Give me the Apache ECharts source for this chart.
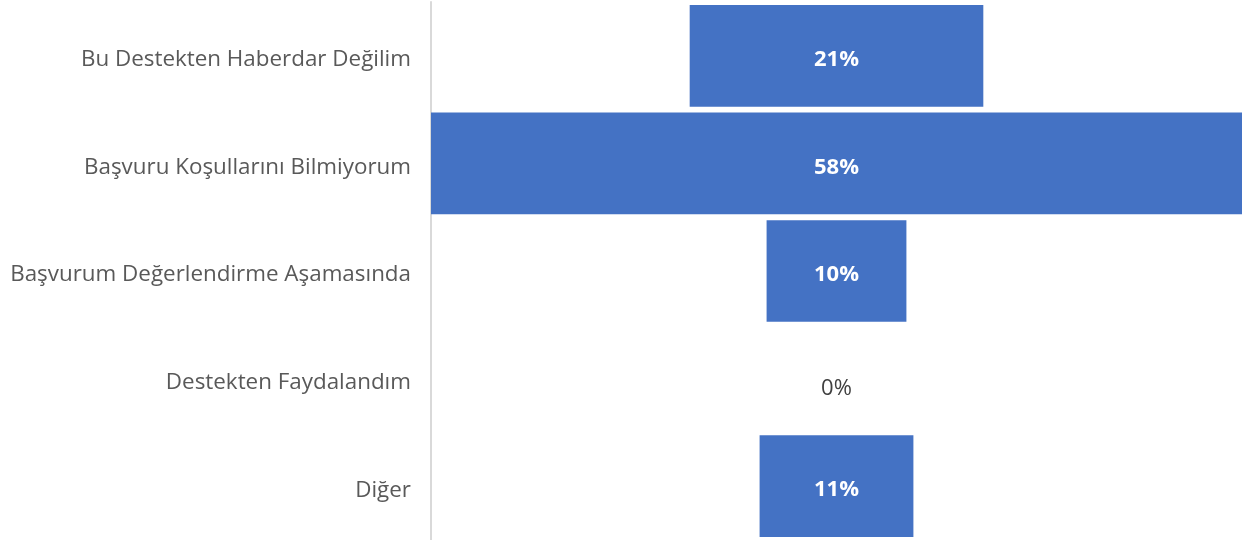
<!DOCTYPE html>
<html><head><meta charset="utf-8">
<script src="https://cdn.jsdelivr.net/npm/echarts@6/dist/echarts.min.js"></script>
<style>html,body{margin:0;padding:0;background:#fff}#c{width:1248px;height:540px}</style>
</head><body><div id="c"></div>
<script>
const categories = ["Bu Destekten Haberdar Değilim","Başvuru Koşullarını Bilmiyorum","Başvurum Değerlendirme Aşamasında","Destekten Faydalandım","Diğer"];
const values = [21, 58, 10, 0, 11];
const maxVal = 58;
const offsets = values.map(v => (maxVal - v) / 2);
const chart = echarts.init(document.getElementById('c'), null, {renderer:'canvas'});
chart.setOption({
  animation:false,
  grid:{left:431, right:6, top:2, bottom:-2, containLabel:false},
  xAxis:{type:'value', min:0, max:maxVal, show:false},
  yAxis:{type:'category', data:categories, inverse:true,
    axisLine:{show:true, lineStyle:{color:'#d9d9d9', width:2}},
    axisTick:{show:false},
    axisLabel:{margin:20, formatter: v => '{a|' + v + '}',
      rich:{a:{color:'#595959', fontSize:22.4, fontFamily:'Open Sans', padding:[8,0,0,0]}}}},
  series:[
    {type:'bar', stack:'f', data:offsets, itemStyle:{color:'transparent'}, barCategoryGap:'5.5%', silent:true},
    {type:'bar', stack:'f', data:values.map(v => v === 0 ? {value:v, label:{color:'#404040', fontWeight:'normal', fontSize:22, offset:[0,10]}} : v),
      itemStyle:{color:'#4472C4'}, barCategoryGap:'5.5%',
      label:{show:true, position:'inside', formatter:'{c}%', color:'#fff', fontWeight:'bold', fontSize:22, fontFamily:'Open Sans', offset:[0,4]}}
  ]
});
</script></body></html>
